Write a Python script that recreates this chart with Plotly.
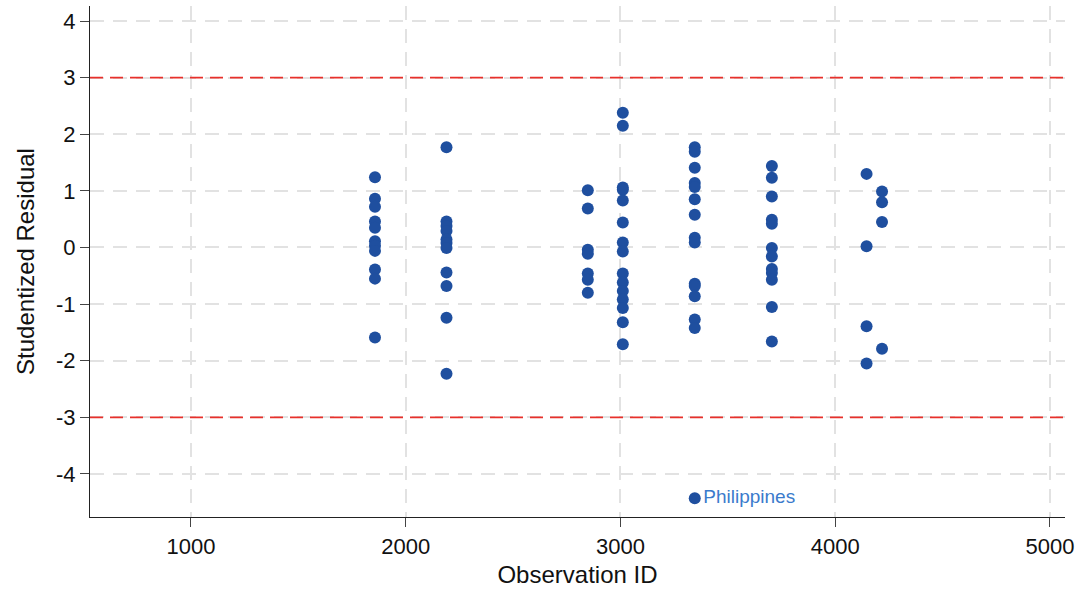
import plotly.graph_objects as go

# Observation IDs and studentized residuals
obs_id = (
    [1857]*11 + [2190]*11 + [2848]*7 + [3011]*15 + [3346]*14 + [3705]*12
    + [4146, 4218, 4218, 4218, 4146, 4146, 4218, 4146]
)
residual = [
    # ~1857
    1.24, 0.86, 0.72, 0.46, 0.35, 0.11, 0.03, -0.06, -0.39, -0.55, -1.59,
    # ~2190
    1.77, 0.46, 0.38, 0.29, 0.14, 0.08, -0.01, -0.44, -0.68, -1.24, -2.23,
    # ~2848
    1.01, 0.69, -0.04, -0.11, -0.46, -0.57, -0.80,
    # ~3011
    2.38, 2.15, 1.06, 1.02, 0.83, 0.44, 0.09, -0.07, -0.46, -0.62, -0.77, -0.92,
    -1.07, -1.32, -1.71,
    # ~3346
    1.77, 1.69, 1.41, 1.14, 1.07, 0.85, 0.58, 0.17, 0.09, -0.64, -0.68, -0.86,
    -1.27, -1.42,
    # ~3705
    1.44, 1.23, 0.90, 0.49, 0.42, -0.01, -0.16, -0.38, -0.45, -0.57, -1.05, -1.66,
    # ~4146 / ~4218
    1.30, 0.99, 0.80, 0.45, 0.02, -1.39, -1.79, -2.05,
]

outlier_id = [3346]
outlier_res = [-4.43]
outlier_label = ["Philippines"]

x_ticks = [1000, 2000, 3000, 4000, 5000]
y_ticks = [-4, -3, -2, -1, 0, 1, 2, 3, 4]
thresholds = [3, -3]

marker_color = "#1f4f9f"
label_color = "#3b7bcc"

fig = go.Figure()
fig.add_trace(go.Scatter(
    x=obs_id, y=residual, mode="markers",
    marker=dict(color=marker_color, size=12, line=dict(width=0)),
    showlegend=False, hoverinfo="x+y",
))
fig.add_trace(go.Scatter(
    x=outlier_id, y=outlier_res, mode="markers+text",
    text=[outlier_label[0]], textposition="middle right",
    textfont=dict(color=label_color, size=19, family="Liberation Sans, Arial, sans-serif"),
    marker=dict(color=marker_color, size=12, line=dict(width=0)),
    showlegend=False,
))

for t in thresholds:
    fig.add_shape(type="line", xref="paper", x0=0, x1=1, yref="y", y0=t, y1=t,
                  line=dict(color="#e8302b", width=1.8, dash="13px,7px"), layer="above")

font_family = "Liberation Sans, Arial, Helvetica, sans-serif"
fig.update_layout(
    width=1090, height=591,
    margin=dict(l=90, r=25, t=6, b=74),
    paper_bgcolor="white", plot_bgcolor="white",
    font=dict(family=font_family, color="#111111", size=22),
    xaxis=dict(
        range=[530, 5070], tickvals=x_ticks, ticktext=[str(v) for v in x_ticks],
        showgrid=True, gridcolor="#e2e2e2", gridwidth=1.5, griddash="14px,9px",
        showline=True, linecolor="#222222", linewidth=1.3,
        ticks="outside", ticklen=9, tickcolor="#444444", tickwidth=1,
        zeroline=False,
        title=dict(text="Observation ID", font=dict(size=24), standoff=8),
        tickfont=dict(size=22),
    ),
    yaxis=dict(
        range=[-4.76, 4.265], tickvals=y_ticks, ticktext=[str(v) for v in y_ticks],
        showgrid=True, gridcolor="#e2e2e2", gridwidth=1.5, griddash="14px,9px",
        showline=True, linecolor="#222222", linewidth=1.3,
        ticks="outside", ticklen=9, tickcolor="#444444", tickwidth=1,
        zeroline=False,
        title=dict(text="Studentized Residual", font=dict(size=24), standoff=14),
        tickfont=dict(size=22),
    ),
)

fig.write_html("out.html")
